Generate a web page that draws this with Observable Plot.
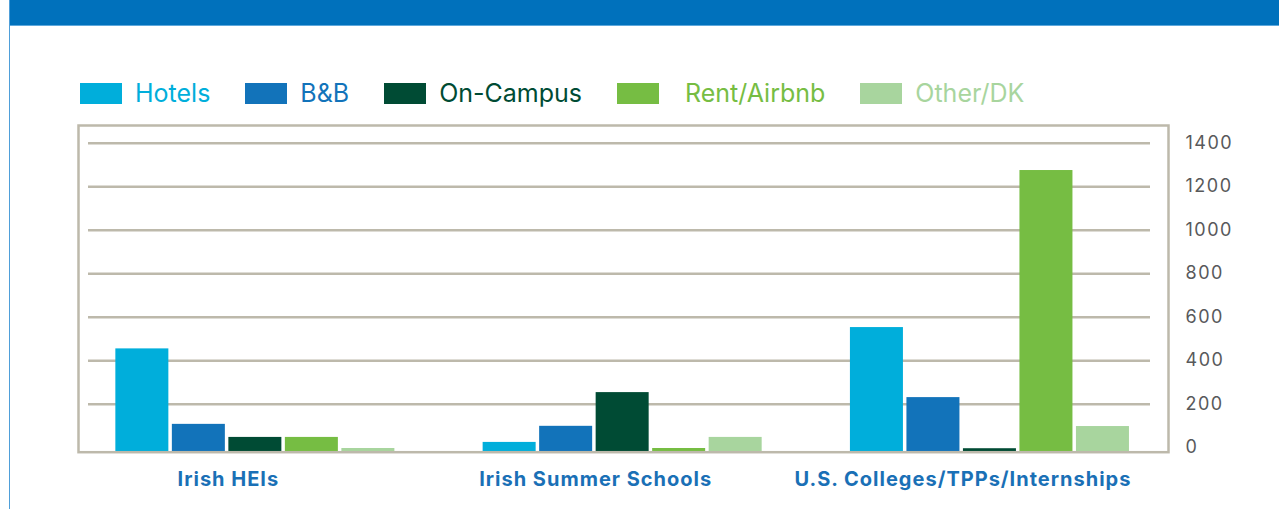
<!DOCTYPE html>
<html>
<head>
<meta charset="utf-8">
<script src="https://cdn.jsdelivr.net/npm/d3@7"></script>
<script src="https://cdn.jsdelivr.net/npm/@observablehq/plot@0.6"></script>
<style>
  html, body { margin: 0; padding: 0; background: #fff; }
  #page { position: relative; width: 1279px; height: 509px; overflow: hidden; background: #fff; font-family: Inter, "Noto Sans", sans-serif; }
  #band { position: absolute; left: 9px; top: 0; width: 1270px; height: 25px; background: #0071bc; border-bottom: 1px solid #5ea8dc; }
  #vline { position: absolute; left: 9px; top: 0; width: 1px; height: 509px; background: #4f9fd9; }
  #legend { position: absolute; left: 80px; top: 83px; display: flex; align-items: center; }
  .item { display: flex; align-items: center; margin-right: 35px; }
  .sw { width: 42px; height: 21px; margin-right: 13px; }
  .lab { font-size: 25px; line-height: 21px; white-space: nowrap; }
  #chart { position: absolute; left: 0; top: 115px; }
</style>
</head>
<body>
<div id="page">
  <div id="band"></div>
  <div id="vline"></div>
  <div id="legend"></div>
  <div id="chart"></div>
</div>
<script>
// ---- data ----
const groups = ["Irish HEIs", "Irish Summer Schools", "U.S. Colleges/TPPs/Internships"];
const types = ["Hotels", "B&B", "On-Campus", "Rent/Airbnb", "Other/DK"];
const colors = ["#00aedb", "#1273ba", "#004b34", "#76bd43", "#a8d59e"];
const hotels = [475, 45, 573];
const bnb = [128, 119, 251];
const onCampus = [68, 274, 16];
const rentAirbnb = [68, 17, 1295];
const otherDK = [17, 68, 118];
const yTicks = [0, 200, 400, 600, 800, 1000, 1200, 1400];

// ---- build table ----
const series = [hotels, bnb, onCampus, rentAirbnb, otherDK];
const groupStep = 6.5;
const rows = [];
groups.forEach((g, gi) => {
  types.forEach((t, ti) => {
    rows.push({group: g, type: t, pos: gi * groupStep + ti, value: series[ti][gi]});
  });
});

// ---- legend ----
const legend = document.getElementById("legend");
types.forEach((t, i) => {
  const it = document.createElement("div");
  it.className = "item";
  const sw = document.createElement("div");
  sw.className = "sw";
  sw.style.background = colors[i];
  const lab = document.createElement("div");
  lab.className = "lab";
  lab.style.color = colors[i];
  lab.textContent = t;
  if (t === "Rent/Airbnb") { sw.style.marginRight = "26px"; }
  it.appendChild(sw); it.appendChild(lab);
  legend.appendChild(it);
});

// ---- chart ----
const grid = "#bdb9ab";
const chart = Plot.plot({
  width: 1279,
  height: 394,
  marginLeft: 78,
  marginRight: 111,
  marginTop: 10,
  marginBottom: 57.3,
  style: {fontFamily: "Inter, 'Noto Sans', sans-serif", background: "transparent", overflow: "visible"},
  x: {domain: [-0.63, 18.66], axis: null},
  y: {domain: [0, 1502], axis: null},
  color: {domain: types, range: colors},
  marks: [
    Plot.ruleY(yTicks.filter(d => d > 0), {stroke: grid, strokeWidth: 2.5, insetLeft: 10, insetRight: 18, dy: -4.5}),
    Plot.rectY(rows, {x1: "pos", x2: d => d.pos + 1, y1: 0, y2: "value", fill: "type", insetLeft: 1.75, insetRight: 1.75}),
    Plot.frame({stroke: grid, strokeWidth: 2.5}),
    Plot.text(yTicks, {y: d => d, text: d => String(d), frameAnchor: "right", textAnchor: "start", dx: 17, dy: -4.5, fill: "#58595b", fontSize: 18}),
    Plot.text(groups, {x: (d, i) => i * groupStep + 2.5, text: d => d, frameAnchor: "bottom", lineAnchor: "middle", dy: 27, dx: -27, fill: "#1a70b6", fontSize: 20, fontWeight: "bold"})
  ]
});
document.getElementById("chart").appendChild(chart);
// widen the lettering to match the reference typeface
d3.select(chart).selectAll("text").each(function() {
  const t = this.textContent;
  if (/^\d+$/.test(t)) this.setAttribute("letter-spacing", "1.5");
  else if (groups.includes(t)) this.setAttribute("letter-spacing", "1");
});
</script>
</body>
</html>
